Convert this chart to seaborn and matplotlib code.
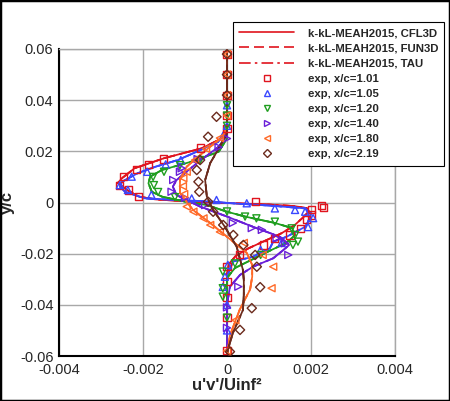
import matplotlib
matplotlib.use("Agg")
import matplotlib.pyplot as plt
import seaborn as sns
from matplotlib.lines import Line2D
from matplotlib.patches import Rectangle
from matplotlib.ticker import MultipleLocator

# stations and colours
stations = ["1.01", "1.05", "1.20", "1.40", "1.80", "2.19"]
colors = ["#e0141e", "#3a48ff", "#1f9e1f", "#6a1fd8", "#ff6a28", "#6b2a1c"]
markers = ["s", "^", "v", ">", "<", "D"]

# CFD profiles (k-kL-MEAH2015), one per station: y/c and u'v'/Uinf^2
cfd_y_101 = [0.060, 0.030, 0.027, 0.025, 0.0212, 0.0173, 0.0134, 0.0095, 0.0076, 0.0049, 0.0023, 0.0012, 0.0004,
             -0.0002, -0.0008, -0.0014, -0.0022, -0.0035, -0.0060, -0.0090, -0.0120, -0.0150, -0.0180, -0.0210,
             -0.0240, -0.0280, -0.0600]
cfd_x_101 = [0.0, 0.0, -0.00005, -0.00013, -0.0006, -0.0015, -0.0022, -0.0025, -0.0026, -0.00238, -0.0021, -0.0017,
             -0.0009, 0.0, 0.0010, 0.0016, 0.0019, 0.00195, 0.0018, 0.0016, 0.0013, 0.0009, 0.0005, 0.0002, 0.00005,
             0.0, 0.0]
cfd_y_105 = [0.060, 0.030, 0.0237, 0.0200, 0.0166, 0.0140, 0.0115, 0.0081, 0.0062, 0.0042, 0.0016, 0.0010, 0.0003,
             -0.0002, -0.0012, -0.0023, -0.0042, -0.0075, -0.0095, -0.0134, -0.0153, -0.0179, -0.0212, -0.0231,
             -0.0290, -0.0600]
cfd_x_105 = [0.0, 0.0, -0.00021, -0.0007, -0.00117, -0.0017, -0.00212, -0.0025, -0.00255, -0.00243, -0.00195,
             -0.00117, -0.0003, 0.00002, 0.0010, 0.00186, 0.0020, 0.00193, 0.00186, 0.00142, 0.0011, 0.00102,
             0.00062, 0.00014, 0.0, 0.0]
cfd_y_120 = [0.060, 0.025, 0.0198, 0.0160, 0.0127, 0.0101, 0.0075, 0.0042, 0.0023, 0.0000, -0.0010, -0.0036,
             -0.0055, -0.0080, -0.0100, -0.0127, -0.0146, -0.0166, -0.0190, -0.0217, -0.0256, -0.0295, -0.0600]
cfd_x_120 = [0.0, 0.0, -0.0002, -0.00084, -0.00155, -0.00183, -0.00187, -0.00179, -0.00155, -0.0009, -0.00048,
             0.0, 0.00043, 0.00114, 0.00155, 0.00162, 0.0015, 0.00131, 0.0010, 0.00067, 0.00019, 0.0, 0.0]
cfd_y_140 = [0.060, 0.026, 0.0218, 0.0153, 0.0088, 0.0062, 0.0029, -0.0016, -0.0055, -0.0095, -0.0134, -0.0166,
             -0.0186, -0.0218, -0.0251, -0.0283, -0.0329, -0.0400, -0.0600]
cfd_x_140 = [0.0, 0.0, -0.0002, -0.00072, -0.0012, -0.00129, -0.0012, -0.00064, 0.0, 0.00062, 0.00126, 0.00148,
             0.00134, 0.0011, 0.00062, 0.00031, 0.00007, 0.0, 0.0]
cfd_y_180 = [0.060, 0.030, 0.0257, 0.0205, 0.0140, 0.0088, 0.0037, -0.0029, -0.0080, -0.0134, -0.0197, -0.0244,
             -0.0290, -0.0340, -0.0420, -0.0520, -0.0600]
cfd_x_180 = [0.0, 0.0, -0.0001, -0.0005, -0.00096, -0.00112, -0.00112, -0.00081, -0.0004, 0.0, 0.00047, 0.0006,
             0.0006, 0.00055, 0.0003, 0.00007, 0.0]
cfd_y_219 = [0.060, 0.027, 0.0210, 0.0154, 0.0088, 0.0023, -0.0029, -0.0095, -0.0173, -0.0264, -0.0303, -0.0360,
             -0.0420, -0.0510, -0.0576, -0.0600]
cfd_x_219 = [0.0, 0.0, -0.0002, -0.0004, -0.00052, -0.00048, -0.00033, -0.00005, 0.00023, 0.00038, 0.0004, 0.0004,
             0.00038, 0.00014, 0.00002, 0.0]

# experiment
exp_y_101 = [0.058, 0.050, 0.042, 0.034, 0.029, 0.0213, 0.0170, 0.0149, 0.0130, 0.0101, 0.0068, 0.0049, 0.0023,
             0.0003, -0.0010, -0.0021, -0.0029, -0.0049, -0.0068, -0.0101, -0.0127, -0.0140, -0.0166, -0.0205,
             -0.0250, -0.0310, -0.0370, -0.0450, -0.0580]
exp_x_101 = [0.0, 0.0, 0.0, 0.0, 0.0, -0.00064, -0.00152, -0.00187, -0.00215, -0.00247, -0.00255, -0.00235,
             -0.00211, 0.00067, 0.00225, 0.00229, 0.00202, 0.00202, 0.0019, 0.00174, 0.0015, 0.00114, 0.00086,
             0.0003, 0.0, 0.0, 0.0, 0.0, 0.0]
exp_y_105 = [0.038, 0.030, 0.0166, 0.0149, 0.0120, 0.0101, 0.0068, 0.0049, 0.0030, 0.0016, 0.0010, -0.0003,
             -0.0023, -0.0029, -0.0036, -0.0061, -0.0096, -0.0158, -0.0185, -0.0244, -0.0290, -0.0330, -0.0400,
             -0.0500]
exp_x_105 = [0.0, 0.0, -0.0011, -0.00146, -0.0019, -0.00227, -0.00255, -0.00236, -0.0018, -0.00084, -0.00025,
             0.00047, 0.00114, 0.00162, 0.00186, 0.00205, 0.00193, 0.0013, 0.0008, 0.00002, -0.00005, -0.0001,
             0.0, 0.0]
exp_y_120 = [0.038, 0.034, 0.030, 0.0166, 0.0146, 0.0120, 0.0100, 0.0068, 0.0041, 0.0021, -0.0035, -0.0055,
             -0.0062, -0.0075, -0.0101, -0.0127, -0.0153, -0.0166, -0.0205, -0.0238, -0.0270, -0.0335, -0.0368,
             -0.0450]
exp_x_120 = [0.0, 0.0, 0.0, -0.00064, -0.00112, -0.0015, -0.00176, -0.00174, -0.00164, -0.00124, 0.0, 0.00043,
             0.0007, 0.00114, 0.00154, 0.00162, 0.00169, 0.00157, 0.0008, 0.00019, -0.0001, -0.0001, -0.0001, 0.0]
exp_y_140 = [0.025, 0.0216, 0.0170, 0.0134, 0.0120, 0.0088, 0.0042, 0.0018, -0.0010, -0.0080, -0.0100, -0.0107,
             -0.0140, -0.0159, -0.0205, -0.0329, -0.0410, -0.0490]
exp_x_140 = [0.0, -0.0002, -0.0007, -0.00108, -0.00112, -0.00128, -0.00132, -0.0010, -0.00052, 0.00014, 0.00059,
             0.00083, 0.00118, 0.00138, 0.00146, 0.00027, 0.0, 0.0]
exp_y_180 = [0.058, 0.050, 0.042, 0.034, 0.0252, 0.0210, 0.0166, 0.0120, 0.0095, 0.0064, 0.0033, -0.0016,
             -0.0036, -0.0062, -0.0088, -0.0115, -0.0158, -0.0205, -0.0251, -0.0335, -0.0460, -0.0580]
exp_x_180 = [0.0, 0.0, 0.0, 0.0, -0.00017, -0.0005, -0.00076, -0.00096, -0.00104, -0.00105, -0.00102, -0.00096,
             -0.0008, -0.00056, -0.0004, -0.00017, 0.0004, 0.00085, 0.0011, 0.00106, 0.0002, 0.0]
exp_y_219 = [0.058, 0.050, 0.042, 0.0335, 0.0257, 0.0166, 0.0127, 0.0081, 0.0042, 0.0003, -0.0036, -0.0088,
             -0.0127, -0.0166, -0.0205, -0.0251, -0.0331, -0.0413, -0.0498, -0.0583]
exp_x_219 = [0.0, 0.0, 0.0, -0.00025, -0.00045, -0.00064, -0.00072, -0.00068, -0.00066, -0.00045, -0.00033,
             -0.00009, 0.00015, 0.00039, 0.00067, 0.00071, 0.00079, 0.00059, 0.00031, 0.00007]

cfd = [(cfd_x_101, cfd_y_101), (cfd_x_105, cfd_y_105), (cfd_x_120, cfd_y_120),
       (cfd_x_140, cfd_y_140), (cfd_x_180, cfd_y_180), (cfd_x_219, cfd_y_219)]
exp = [(exp_x_101, exp_y_101), (exp_x_105, exp_y_105), (exp_x_120, exp_y_120),
       (exp_x_140, exp_y_140), (exp_x_180, exp_y_180), (exp_x_219, exp_y_219)]

codes = ["CFL3D", "FUN3D", "TAU"]
styles = ["-", (0, (6, 3)), (0, (7, 2.5, 1.5, 2.5))]

sns.set_style("white")
plt.rcParams["font.family"] = ["Liberation Sans", "DejaVu Sans"]

fig = plt.figure(figsize=(4.5, 4.01), dpi=100)
ax = fig.add_axes([59 / 450, 1 - 356 / 401, 336 / 450, 307 / 401])

for (cx, cy), c in zip(cfd, colors):
    for ls in styles:
        sns.lineplot(x=cx, y=cy, sort=False, estimator=None, color=c, lw=1.25,
                     linestyle=ls, ax=ax, legend=False)

for (ex, ey), c, m in zip(exp, colors, markers):
    sns.scatterplot(x=ex, y=ey, marker=m, s=26 if m != "D" else 22, color=c, facecolors="none",
                    edgecolor=c, linewidth=1.0, ax=ax, legend=False, zorder=3)

ax.set_xlim(-0.004, 0.004)
ax.set_ylim(-0.06, 0.06)
ax.xaxis.set_major_locator(MultipleLocator(0.002))
ax.xaxis.set_minor_locator(MultipleLocator(0.0005))
ax.yaxis.set_major_locator(MultipleLocator(0.02))
ax.yaxis.set_minor_locator(MultipleLocator(0.005))
ax.set_xticklabels([f"{v:g}" for v in ax.get_xticks()])
ax.set_yticklabels([f"{v:.2f}" if abs(v) > 1e-9 else "0" for v in ax.get_yticks()])
ax.tick_params(which="major", direction="in", length=6, width=1.2, labelsize=10.5,
               top=False, right=False)
ax.tick_params(axis="x", which="major", pad=5)
ax.tick_params(axis="y", which="major", pad=4)
ax.tick_params(which="minor", direction="in", length=3, width=1, top=False, right=False)
ax.grid(True, which="major", color="#a8a8a8", lw=1)
ax.set_axisbelow(True)
for side in ["left", "bottom"]:
    ax.spines[side].set_color("black")
    ax.spines[side].set_linewidth(1.5)
for side in ["top", "right"]:
    ax.spines[side].set_color("#a8a8a8")
    ax.spines[side].set_linewidth(1)

ax.set_xlabel("u'v'/Uinf\u00b2", fontsize=12, fontweight="bold", labelpad=1)
ax.set_ylabel("y/c", fontsize=12, fontweight="bold", labelpad=4)

handles = [Line2D([], [], color=colors[0], lw=1.2, linestyle=ls) for ls in styles]
labels = [f"k-kL-MEAH2015, {c}" for c in codes]
for c, m, st in zip(colors, markers, stations):
    handles.append(Line2D([], [], color=c, marker=m, ms=5 if m != "D" else 4.5, mfc="none",
                          mew=1, linestyle="none"))
    labels.append(f"exp, x/c={st}")
leg = fig.legend(handles, labels, loc="upper left", bbox_to_anchor=(233 / 450, 1 - 22 / 401),
                 prop={"weight": "bold", "size": 8.2}, frameon=True, fancybox=False,
                 handlelength=4.8, labelspacing=0.45, borderpad=0.55, handletextpad=1.2,
                 borderaxespad=0)
leg.get_frame().set_edgecolor("black")
leg.get_frame().set_linewidth(0.8)
leg.get_frame().set_alpha(1)

fig.patches.append(Rectangle((0, 0), 1, 1, transform=fig.transFigure, fill=False, ec="black", lw=2.5))

fig.savefig("out.png", dpi=100)
